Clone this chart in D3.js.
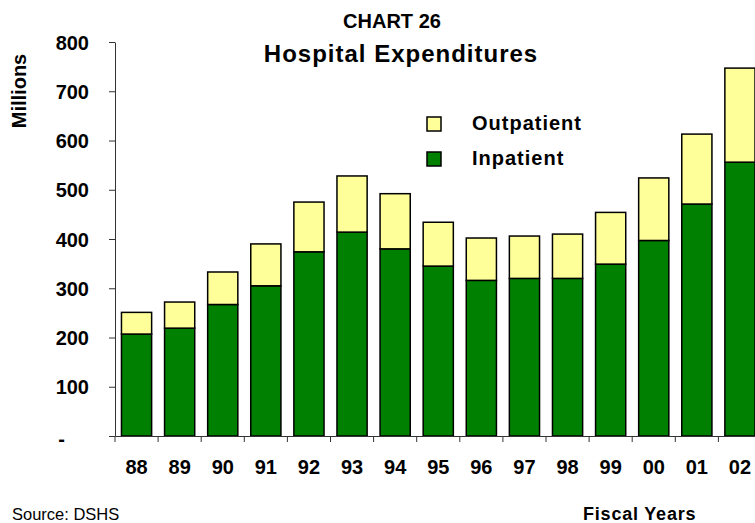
<!DOCTYPE html>
<html>
<head>
<meta charset="utf-8">
<script src="https://cdn.jsdelivr.net/npm/d3@7"></script>
<style>
  body { margin: 0; background: #fff; }
  text { font-family: "Liberation Sans", Arial, sans-serif; }
</style>
</head>
<body>
<script>
// Data (millions)
var years = ["88", "89", "90", "91", "92", "93", "94", "95", "96", "97", "98", "99", "00", "01", "02"];
var inpatient = [207, 219, 267, 305, 374, 414, 380, 345, 316, 320, 320, 349, 397, 471, 556];
var outpatient = [44, 53, 66, 85, 101, 114, 112, 89, 86, 86, 90, 105, 127, 142, 191];
var yTicks = [0, 100, 200, 300, 400, 500, 600, 700, 800];
var seriesNames = ["Inpatient", "Outpatient"];
var seriesColors = ["#008000", "#FFFF99"];

var svgWidth = 755;
var svgHeight = 523;

var margin = { top: 42, left: 115 };
var chartHeight = 394;

var svg = d3.select("body")
  .append("svg")
  .attr("width", svgWidth)
  .attr("height", svgHeight);

// build table for stacking
var table = years.map(function(y, i) {
  return { year: y, Inpatient: inpatient[i], Outpatient: outpatient[i] };
});
var stacked = d3.stack().keys(seriesNames)(table);

var xScale = d3.scaleBand()
  .domain(years)
  .range([0, 646.5])
  .paddingInner(0.3)
  .paddingOuter(0.15);

var yScale = d3.scaleLinear()
  .domain([0, 800])
  .range([chartHeight, 0]);

var chartGroup = svg.append("g")
  .attr("transform", `translate(${margin.left}, ${margin.top})`);

// bars
chartGroup.selectAll("g.series")
  .data(stacked).enter()
  .append("g")
  .attr("class", "series")
  .attr("fill", function(d, i) { return seriesColors[i]; })
  .selectAll("rect")
  .data(function(d) { return d; }).enter()
  .append("rect")
  .attr("x", function(d) { return xScale(d.data.year); })
  .attr("y", function(d) { return yScale(d[1]); })
  .attr("width", xScale.bandwidth())
  .attr("height", function(d) { return yScale(d[0]) - yScale(d[1]); })
  .attr("stroke", "#000")
  .attr("stroke-width", 1.5);

// left axis
var leftAxis = d3.axisLeft(yScale)
  .tickValues(yTicks)
  .tickSize(6)
  .tickSizeOuter(0)
  .tickPadding(20)
  .tickFormat(function(d) { return d === 0 ? "-" : d; });

var yAxisG = chartGroup.append("g").call(leftAxis);
yAxisG.select(".domain").attr("stroke", "#333");
yAxisG.selectAll(".tick line").attr("stroke", "#333");
yAxisG.selectAll(".tick text")
  .attr("font-size", "20px")
  .attr("font-weight", "bold")
  .attr("fill", "#000")
  .attr("dy", "0.36em")
  .attr("font-family", "Liberation Sans, Arial, sans-serif");
yAxisG.selectAll(".tick text")
  .filter(function(d) { return d === 0; })
  .attr("x", -50)
  .attr("dy", "0.45em");

// bottom axis
var step = xScale.step();
var bottomAxis = d3.axisBottom(xScale)
  .tickSize(0)
  .tickPadding(24);

var xAxisG = chartGroup.append("g")
  .attr("transform", "translate(0, " + chartHeight + ")")
  .call(bottomAxis);
xAxisG.select(".domain").attr("stroke", "#333");
xAxisG.selectAll(".tick text")
  .attr("font-size", "20px")
  .attr("font-weight", "bold")
  .attr("fill", "#000")
  .attr("font-family", "Liberation Sans, Arial, sans-serif");

// category boundary ticks
xAxisG.selectAll("line.bound")
  .data(years).enter()
  .append("line")
  .attr("class", "bound")
  .attr("x1", function(d) { return xScale(d) - step * 0.15; })
  .attr("x2", function(d) { return xScale(d) - step * 0.15; })
  .attr("y1", 0)
  .attr("y2", 6)
  .attr("stroke", "#333");

// titles
svg.append("text")
  .attr("x", 392)
  .attr("y", 28)
  .attr("text-anchor", "middle")
  .attr("font-size", "20px")
  .attr("font-weight", "bold")
  .text("CHART 26");

svg.append("text")
  .attr("x", 401)
  .attr("y", 62)
  .attr("text-anchor", "middle")
  .attr("font-size", "24px")
  .attr("font-weight", "bold")
  .attr("letter-spacing", "1px")
  .text("Hospital Expenditures");

// y axis label
svg.append("g")
  .attr("transform", "translate(26, 91)")
  .append("text")
  .attr("text-anchor", "middle")
  .attr("transform", "rotate(-90)")
  .attr("font-size", "20px")
  .attr("font-weight", "bold")
  .text("Millions");

// legend
var legendItems = [
  { name: "Outpatient", color: seriesColors[1], y: 117 },
  { name: "Inpatient", color: seriesColors[0], y: 152 }
];
var legend = svg.selectAll("g.legend")
  .data(legendItems).enter()
  .append("g")
  .attr("class", "legend")
  .attr("transform", function(d) { return "translate(427," + d.y + ")"; });
legend.append("rect")
  .attr("width", 14)
  .attr("height", 14)
  .attr("fill", function(d) { return d.color; })
  .attr("stroke", "#000")
  .attr("stroke-width", 1.5);
legend.append("text")
  .attr("x", 45)
  .attr("y", 13)
  .attr("font-size", "20px")
  .attr("font-weight", "bold")
  .attr("letter-spacing", "1px")
  .text(function(d) { return d.name; });

// footer
svg.append("text")
  .attr("x", 12)
  .attr("y", 520)
  .attr("font-size", "16.5px")
  .text("Source: DSHS");

svg.append("text")
  .attr("x", 583)
  .attr("y", 520)
  .attr("font-size", "18px")
  .attr("font-weight", "bold")
  .attr("letter-spacing", "0.8px")
  .text("Fiscal Years");
</script>
</body>
</html>
